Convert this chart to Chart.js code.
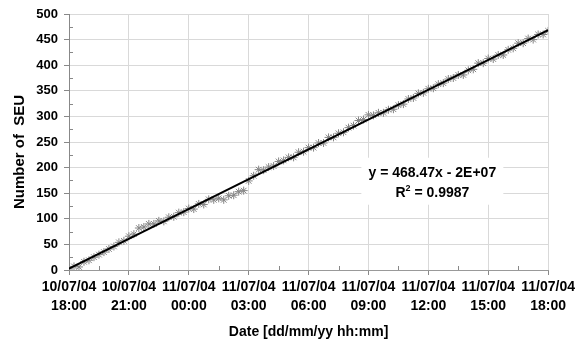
<!DOCTYPE html>
<html>
<head>
    <title>Number of SEU</title>
    <script src="https://cdn.jsdelivr.net/npm/chart.js"></script>
    <style>
        body { margin: 0; background: #fff; }
        .chart-container { width: 578px; height: 346px; }
    </style>
</head>
<body>
    <div class="chart-container">
        <canvas id="seuChart"></canvas>
    </div>

    <script>
        // tick labels (every 3 h, starting 10/07/04 18:00)
        const dateLabels = ['10/07/04', '10/07/04', '11/07/04', '11/07/04', '11/07/04', '11/07/04', '11/07/04', '11/07/04', '11/07/04'];
        const timeLabels = ['18:00', '21:00', '00:00', '03:00', '06:00', '09:00', '12:00', '15:00', '18:00'];

        // cumulative SEU count, one reading every 15 min from 18:00
        const seuCount = [
            2, 7, 6, 16, 19, 25, 30, 35, 41, 46, 54, 57, 66, 70, 82, 84,
            90, 90, 96, 95, 103, 104, 112, 113, 120, 119, 129, 128, 138, 137, 140, 137,
            145, 146, 153, 155, 174, 184, 196, 195, 201, 203, 212, 214, 220, 220, 230, 231,
            239, 239, 248, 248, 259, 259, 267, 269, 278, 282, 292, 294, 303, 302, 307, 307,
            313, 314, 322, 324, 334, 336, 345, 346, 354, 355, 363, 365, 373, 375, 381, 381,
            390, 392, 404, 404, 413, 412, 420, 420, 430, 433, 443, 443, 452, 450, 460, 460,
            467
        ];
        const stepHours = 0.25;

        const points = seuCount.map((v, i) => ({ x: i * stepHours, y: v }));

        // least squares trend line
        let n = points.length, sx = 0, sy = 0, sxx = 0, sxy = 0;
        points.forEach(p => { sx += p.x; sy += p.y; sxx += p.x * p.x; sxy += p.x * p.y; });
        const slope = (n * sxy - sx * sy) / (n * sxx - sx * sx);
        const icpt = (sy - slope * sx) / n;
        const trend = [{ x: 0, y: icpt }, { x: 24, y: icpt + slope * 24 }];

        const FONT = 'Liberation Sans, Arial, sans-serif';

        const extras = {
            id: 'extras',
            afterDatasetsDraw(chart) {
                const c = chart.ctx, xs = chart.scales.x, ys = chart.scales.y;
                c.save();
                // minor ticks
                c.strokeStyle = '#888';
                c.lineWidth = 1;
                for (let v = 25; v < 500; v += 50) {
                    const py = Math.round(ys.getPixelForValue(v)) + 0.5;
                    c.beginPath(); c.moveTo(xs.left, py); c.lineTo(xs.left + 4, py); c.stroke();
                }
                for (let h = 1.5; h < 24; h += 3) {
                    const px = Math.round(xs.getPixelForValue(h)) + 0.5;
                    c.beginPath(); c.moveTo(px, ys.bottom); c.lineTo(px, ys.bottom - 4); c.stroke();
                }
                // equation box
                const cx = xs.getPixelForValue(18.2);
                const y1 = ys.getPixelForValue(190);
                const y2 = ys.getPixelForValue(150);
                c.fillStyle = '#fff';
                c.fillRect(cx - 71, y1 - 15, 142, 47);
                c.fillStyle = '#000';
                c.font = 'bold 14px ' + FONT;
                c.textAlign = 'center';
                c.textBaseline = 'middle';
                c.fillText('y = 468.47x - 2E+07', cx, y1);
                c.textAlign = 'left';
                const w1 = c.measureText('R').width;
                const rest = ' = 0.9987';
                const total = w1 + 5 + c.measureText(rest).width;
                const x0 = cx - total / 2;
                c.fillText('R', x0, y2);
                c.fillText(rest, x0 + w1 + 5, y2);
                c.font = 'bold 9px ' + FONT;
                c.fillText('2', x0 + w1, y2 - 5);
                // y axis title
                c.font = 'bold 15px ' + FONT;
                c.textAlign = 'center';
                c.translate(20, 152);
                c.rotate(-Math.PI / 2);
                c.fillText('Number of  SEU', 0, 0);
                c.restore();
            }
        };

        new Chart(document.getElementById('seuChart'), {
            type: 'scatter',
            data: {
                datasets: [
                    {
                        label: 'Linear trend',
                        type: 'line',
                        data: trend,
                        borderColor: '#000',
                        borderWidth: 2,
                        pointRadius: 0,
                        order: 0
                    },
                    {
                        label: 'SEU',
                        data: points,
                        pointStyle: 'star',
                        pointRadius: 4,
                        borderColor: '#858585',
                        borderWidth: 1,
                        backgroundColor: 'transparent',
                        order: 1
                    }
                ]
            },
            options: {
                responsive: true,
                maintainAspectRatio: false,
                animation: false,
                layout: { padding: { top: 14, right: 29, left: 0, bottom: 0 } },
                plugins: { legend: { display: false }, tooltip: { enabled: false } },
                scales: {
                    x: {
                        type: 'linear',
                        min: 0, max: 24,
                        afterFit: s => { s.height = 76; },
                        ticks: {
                            stepSize: 3,
                            maxRotation: 0,
                            autoSkip: false,
                            color: '#000',
                            font: { family: FONT, size: 14, weight: 'bold', lineHeight: 1.35 },
                            padding: 3,
                            callback: (v) => {
                                const i = Math.round(v / 3);
                                return [dateLabels[i], timeLabels[i]];
                            }
                        },
                        grid: { color: '#d9d9d9', tickColor: '#888', tickLength: 5 },
                        border: { color: '#999' },
                        title: {
                            display: true,
                            text: 'Date [dd/mm/yy hh:mm]',
                            color: '#000',
                            font: { family: FONT, size: 14, weight: 'bold' },
                            padding: { top: 6, bottom: 5 }
                        }
                    },
                    y: {
                        min: 0, max: 500,
                        afterFit: s => { s.width = 69; },
                        ticks: {
                            stepSize: 50,
                            color: '#000',
                            font: { family: FONT, size: 13, weight: 'bold' },
                            padding: 6
                        },
                        grid: { color: '#d9d9d9', tickColor: '#888', tickLength: 5 },
                        border: { color: '#888' }
                    }
                }
            },
            plugins: [extras]
        });
    </script>
</body>
</html>
